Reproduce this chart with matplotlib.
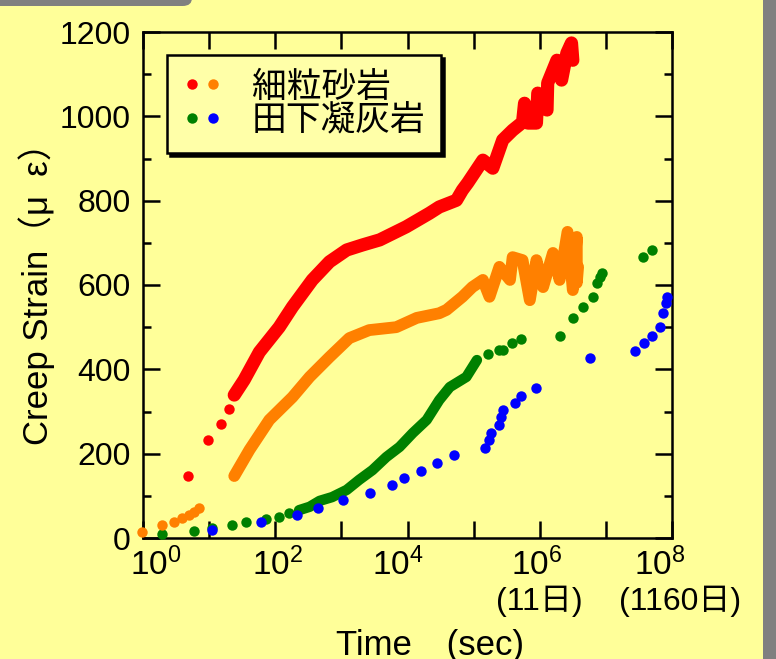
import matplotlib
matplotlib.use('Agg')
import matplotlib.pyplot as plt
import numpy as np
from matplotlib.legend_handler import HandlerTuple
from matplotlib.lines import Line2D
from matplotlib.patches import FancyBboxPatch, Rectangle
from matplotlib.ticker import FixedLocator, FixedFormatter
from matplotlib.transforms import ScaledTranslation

plt.rcParams['font.family'] = ['Liberation Sans', 'Noto Sans CJK JP', 'DejaVu Sans']
plt.rcParams['mathtext.fontset'] = 'custom'
plt.rcParams['mathtext.rm'] = 'Liberation Sans'
plt.rcParams['mathtext.it'] = 'Liberation Sans:italic'

# ---- data (log10 of time in sec, creep strain in micro-strain) ----
red_sparse_logt = [0.68, 0.98, 1.18, 1.30]
red_sparse_val = [147, 232, 270, 306]
red_dense_logt = [1.38, 1.53, 1.76, 2.06, 2.26, 2.56, 2.82, 3.08, 3.32, 3.58, 3.98, 4.33, 4.48,
                  4.74, 4.83, 4.91, 5.14, 5.29, 5.44, 5.59, 5.74, 5.77, 5.82, 5.95, 5.97, 6.11,
                  6.12, 6.26, 6.33, 6.41, 6.48, 6.50]
red_dense_val = [339, 375, 441, 500, 548, 612, 655, 683, 695, 707, 738, 770, 785,
                 801, 825, 842, 896, 877, 944, 967, 986, 1031, 984, 984, 1055, 1015,
                 1079, 1133, 1086, 1150, 1174, 1133]

orange_sparse_logt = [-0.02, 0.29, 0.47, 0.59, 0.70, 0.77, 0.85]
orange_sparse_val = [14, 31, 38, 47, 55, 62, 71]
orange_dense_logt = [1.38, 1.61, 1.91, 2.26, 2.52, 2.82, 3.12, 3.42, 3.83, 4.14, 4.48, 4.59, 4.83,
                     4.98, 5.14, 5.24, 5.39, 5.55, 5.59, 5.74, 5.85, 5.95, 6.05, 6.20, 6.30,
                     6.42, 6.50, 6.56, 6.56, 6.58]
orange_dense_val = [147, 209, 280, 334, 382, 429, 474, 493, 500, 522, 533, 541, 572,
                    595, 612, 572, 643, 612, 666, 659, 564, 659, 595, 676, 612,
                    726, 588, 714, 605, 643]

green_sparse_logt = [0.29, 0.77, 1.05, 1.35, 1.56, 1.86, 2.06, 2.21]
green_sparse_val = [9, 17, 24, 31, 38, 45, 50, 59]
green_dense_logt = [2.36, 2.52, 2.67, 2.86, 3.08, 3.27, 3.47, 3.68, 3.88, 4.08, 4.29, 4.48,
                    4.64, 4.89, 5.05]
green_dense_val = [66, 74, 88, 97, 114, 138, 161, 192, 216, 249, 280, 327,
                   358, 382, 422]
green_late_logt = [5.21, 5.39, 5.44, 5.58, 5.71, 6.30, 6.50, 6.65, 6.80, 6.86, 6.91, 6.94,
                   7.56, 7.70]
green_late_val = [436, 446, 446, 462, 472, 479, 522, 548, 572, 605, 619, 628,
                  666, 683]

blue_logt = [1.05, 1.79, 2.33, 2.64, 3.03, 3.44, 3.76, 3.95, 4.20, 4.44, 4.70, 5.17, 5.24,
             5.27, 5.39, 5.42, 5.44, 5.62, 5.71, 5.95, 6.76, 7.44, 7.58, 7.70, 7.82, 7.86,
             7.91, 7.92]
blue_val = [19, 38, 55, 71, 90, 107, 126, 142, 159, 178, 197, 213, 232,
            249, 268, 287, 304, 320, 337, 356, 427, 444, 462, 479, 500, 533,
            557, 572]

x_tick_exp = [0, 2, 4, 6, 8]
x_tick_labels = [r'$\mathregular{10^{%d}}$' % e for e in x_tick_exp]
x_label_shift_px = [13, 2, -10, -3, -12]
day_labels = {6: '(11日)', 8: '(1160日)'}
day_shift_px = {6: 0, 8: 8}
legend_labels = ['細粒砂岩', '田下凝灰岩']

RED, ORANGE, GREEN, BLUE = '#FF0000', '#FF8000', '#008000', '#0000FF'
BG = '#FFFF99'

fig = plt.figure(figsize=(7.76, 6.59), dpi=100, facecolor=BG)
ax = fig.add_axes([143/776, 1-538/659, (672-143)/776, (538-32)/659])
ax.set_facecolor(BG)

ms = 7.5

def tt(l):
    return 10 ** np.asarray(l, dtype=float)

def dense(logt, val, color, lw):
    ax.plot(tt(logt), val, '-', color=color, lw=lw, solid_capstyle='round',
            solid_joinstyle='round', zorder=3, clip_on=False)

def sparse(logt, val, color):
    ax.plot(tt(logt), val, 'o', color=color, ms=ms, mec='none', zorder=3, clip_on=False)

sparse(green_sparse_logt, green_sparse_val, GREEN)
dense(green_dense_logt, green_dense_val, GREEN, 7.5)
sparse(green_late_logt, green_late_val, GREEN)
sparse(blue_logt, blue_val, BLUE)
sparse(orange_sparse_logt, orange_sparse_val, ORANGE)
dense(orange_dense_logt, orange_dense_val, ORANGE, 8.5)
sparse(red_sparse_logt, red_sparse_val, RED)
dense(red_dense_logt, red_dense_val, RED, 9.5)

ax.set_xscale('log')
ax.set_xlim(1, 1e8)
ax.set_ylim(0, 1200)

ax.xaxis.set_major_locator(FixedLocator(tt(range(0, 9))))
ax.xaxis.set_major_formatter(FixedFormatter(
    [x_tick_labels[x_tick_exp.index(e)] if e in x_tick_exp else '' for e in range(0, 9)]))
ax.xaxis.set_minor_locator(FixedLocator([]))
ax.set_yticks(np.arange(0, 1201, 200))
ax.set_yticks(np.arange(100, 1200, 200), minor=True)

ax.tick_params(axis='both', which='major', direction='in', length=12, width=1.8,
               top=True, right=True, colors='black')
ax.tick_params(axis='y', which='major', pad=9, labelsize=23)
ax.tick_params(axis='x', which='major', pad=7, labelsize=24)
ax.tick_params(axis='y', which='minor', direction='in', length=6, width=1.8, right=True)
for s in ax.spines.values():
    s.set_linewidth(1.8)

fig.canvas.draw()
labs = [t for t in ax.xaxis.get_major_ticks()]
for e, sh in zip(x_tick_exp, x_label_shift_px):
    lab = labs[e].label1
    lab.set_transform(lab.get_transform() + ScaledTranslation(sh/100, 0, fig.dpi_scale_trans))

for e, lab in day_labels.items():
    ax.annotate(lab, xy=(10**e, 0), xycoords=('data', 'axes fraction'),
                xytext=(day_shift_px[e], -63), textcoords='offset pixels',
                ha='center', va='center', fontsize=23)

ax.set_ylabel('Creep Strain（μ  ε）', fontsize=25, labelpad=3)
fig.text(430/776, 1-645/659, 'Time　(sec)', fontsize=25, ha='center', va='center')

# legend
h = [Line2D([], [], ls='none', marker='o', color=c, ms=ms, mec='none')
     for c in (RED, ORANGE, GREEN, BLUE)]
leg = ax.legend([(h[0], h[1]), (h[2], h[3])], legend_labels,
                handler_map={tuple: HandlerTuple(ndivide=None, pad=0.1)},
                loc='upper left', bbox_to_anchor=(167/776, 1-55/659),
                bbox_transform=fig.transFigure, borderaxespad=0, fontsize=25,
                frameon=True, fancybox=False, shadow={'color': 'black', 'alpha': 1},
                handlelength=1.15, handletextpad=0.85, labelspacing=0.02,
                borderpad=0.45, edgecolor='black', facecolor='#FFFFA8', framealpha=1)
leg.get_frame().set_linewidth(1.8)

# page decorations
fig.patches.append(Rectangle((763/776, 0), 13/776, 1, transform=fig.transFigure,
                             facecolor='#808080', edgecolor='none'))
fig.patches.append(FancyBboxPatch((-20/776, 1-6/659), 212/776, 30/659,
                                  boxstyle='round,pad=0,rounding_size=0.012',
                                  transform=fig.transFigure, facecolor='#808080',
                                  edgecolor='none'))

fig.savefig('out.png', dpi=100, facecolor=BG)
